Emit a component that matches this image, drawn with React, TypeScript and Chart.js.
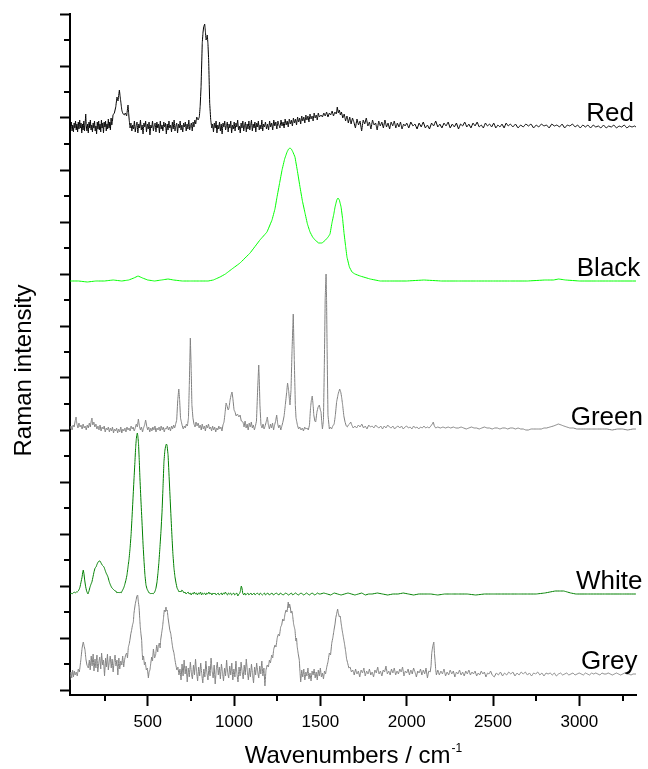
import React, { useEffect, useRef } from "react";
import { Chart, registerables, Plugin } from "chart.js";

Chart.register(...registerables);

const FONT = "'Liberation Sans', Arial, sans-serif";

// [wavenumber cm-1, intensity above the trace's own baseline]
const redSpectrum: [number, number][] = [
  [50, -8], [54, -2], [58, 4], [62, -5], [66, 1], [70, -6], [74, 3], [78, -2], [82, 5], [86, -4],
  [90, 2], [94, -6], [98, 4], [102, -3], [106, 6], [110, -2], [114, 3], [118, -7], [122, 2], [126, -4],
  [130, 5], [134, -5], [138, 3], [141, 12], [144, 1], [148, -5], [152, 2], [156, -7], [160, 4], [164, -2],
  [168, 6], [172, -4], [176, 1], [180, -6], [184, 3], [188, -2], [192, 5], [196, -5], [200, 0], [204, -8],
  [208, 4], [212, -3], [216, 5], [220, -4], [224, 2], [228, -6], [232, 6], [236, -2], [240, 3], [244, -7],
  [248, 4], [252, -1], [256, 5], [260, -5], [264, 2], [268, -3], [272, 7], [276, -2], [280, 4], [284, -4],
  [288, 8], [292, 1], [296, 5],
  [299, 11], [307, 13], [315, 19], [322, 29], [328, 25], [336, 36], [340, 30], [345, 23], [350, 16], [353, 14],
  [358, 12], [364, 11], [370, 13], [378, 10], [386, 21], [390, 12], [393, 6], [398, -2],
  [403, 3], [408, -5], [413, 1], [418, -3], [423, 5], [428, -6], [433, 0], [438, 4], [443, -7], [448, 2],
  [453, -2], [458, 6], [463, -4], [468, 1], [473, -8], [478, 3], [483, -1], [488, 5], [493, -6], [498, 2],
  [503, -3], [508, 4], [513, -9], [518, 1], [523, -2], [528, 5], [533, -5], [538, 0], [543, 3], [548, -6],
  [553, 4], [558, -2], [563, 2], [568, -7], [573, 5], [578, -3], [583, 1], [588, -5], [593, 4], [598, -1],
  [603, 3], [608, -8], [613, 2], [618, -4], [623, 5], [628, -2], [633, 1], [638, -6], [643, 4], [648, -3],
  [653, 6], [658, -5], [663, 0], [668, 3], [673, -7], [678, 2], [683, -2], [688, 5], [693, -4], [698, 1],
  [703, -6], [708, 3], [713, -1], [718, 4], [723, -5], [728, 2], [733, -3], [738, 6], [743, -4], [748, 0],
  [753, 3], [758, -5], [763, 4], [768, -1], [773, 6], [778, 2],
  [784, 9], [792, 6], [799, 9], [804, 20], [809, 39], [816, 83], [820, 93], [824, 99], [830, 102], [834, 95],
  [838, 86], [842, 88], [845, 91], [849, 82], [853, 66], [856, 45], [859, 23], [865, 6], [871, -2],
  [876, 2], [881, -6], [886, 3], [891, -2], [896, 5], [901, -7], [906, 1], [911, -3], [916, 4], [921, -5],
  [926, 2], [931, -8], [936, 3], [941, -1], [946, 5], [951, -4], [956, 0], [961, 4], [966, -6], [971, 2],
  [976, -2], [981, 5], [986, -7], [991, 1], [996, -3], [1001, 4], [1006, -5], [1011, 3], [1016, -1], [1021, 6],
  [1026, -4], [1031, 0], [1036, -7], [1041, 3], [1046, -2], [1051, 5], [1056, -5], [1061, 1], [1066, 4], [1071, -6],
  [1076, 2], [1081, -3], [1086, 5], [1091, -4], [1096, 0], [1101, 6], [1106, -5], [1111, 2], [1116, -2], [1121, 4],
  [1126, -6], [1131, 3], [1136, -1], [1141, 5], [1146, -4], [1151, 1], [1156, -3], [1161, 6], [1166, -5], [1171, 2],
  [1176, -1],
  [1182, 4], [1188, -3], [1194, 2], [1200, -4], [1206, 5], [1212, -1], [1218, 3], [1224, -4], [1230, 6], [1236, 0],
  [1242, 4], [1248, -3], [1254, 5], [1260, 1], [1266, -2], [1272, 6], [1278, 0], [1284, 4], [1290, -2], [1296, 7],
  [1302, 1], [1308, 5], [1314, -1], [1320, 7], [1326, 2], [1332, 6], [1338, 0], [1344, 8], [1350, 3], [1356, 7],
  [1362, 1], [1368, 9], [1374, 4], [1380, 8], [1386, 2], [1392, 10], [1398, 5], [1404, 9], [1410, 3], [1416, 11],
  [1422, 6], [1428, 10], [1434, 4], [1440, 12], [1446, 7], [1452, 10], [1458, 5], [1464, 13], [1470, 8], [1476, 11],
  [1482, 6], [1488, 13], [1494, 9],
  [1504, 11], [1512, 9], [1520, 13], [1528, 10], [1536, 14], [1544, 9], [1552, 13], [1560, 11], [1568, 15], [1576, 10],
  [1584, 14], [1592, 12], [1598, 19], [1604, 13], [1610, 16], [1616, 11], [1622, 14], [1630, 8], [1638, 12], [1646, 5],
  [1654, 10], [1662, 3], [1670, 9], [1678, 2], [1686, 8], [1694, 4],
  [1703, -2], [1712, 7], [1721, 1], [1730, 5], [1739, -5], [1748, 6], [1757, 2], [1766, 8], [1775, 0], [1784, 4],
  [1793, -3], [1802, 6], [1811, 1], [1820, 3], [1829, -4], [1838, 5], [1847, 0], [1856, 4], [1865, -2], [1874, 6],
  [1883, -1], [1892, 3], [1901, -3], [1910, 4], [1919, 0], [1928, 5], [1937, -2], [1946, 3], [1955, -1], [1964, 4],
  [1973, -3], [1982, 2], [1991, 0],
  [2000, 3], [2012, -2], [2024, 4], [2036, 0], [2048, 2], [2060, -3], [2072, 3], [2084, -1], [2096, 4], [2108, -2],
  [2120, 1], [2132, -3], [2144, 3], [2156, 0], [2168, 5], [2180, -1], [2192, 2], [2204, -2], [2216, 3], [2228, 0],
  [2240, 4], [2252, -2], [2264, 2], [2276, -1], [2288, 3], [2300, -3], [2312, 2], [2324, 0], [2336, 4], [2348, -1],
  [2360, 2], [2372, -2], [2384, 3], [2396, 0], [2408, 4], [2420, -1], [2432, 1], [2444, -2], [2456, 3], [2468, 0],
  [2480, 2], [2492, -1], [2504, 3], [2516, -2], [2528, 1], [2540, -1], [2552, 2], [2564, -2], [2576, 3], [2588, 0],
  [2600, 2], [2615, -1], [2630, 2], [2645, -2], [2660, 1], [2675, -1], [2690, 2], [2705, 0], [2720, 2], [2735, -2],
  [2750, 1], [2765, -1], [2780, 2], [2795, 0], [2810, 1], [2825, -2], [2840, 2], [2855, 0], [2870, 1], [2885, -1],
  [2900, 2], [2915, -2], [2930, 1], [2945, 0], [2960, 2], [2975, -1], [2990, 1], [3005, -2], [3020, 1], [3035, -1],
  [3050, 1], [3065, -2], [3080, 1], [3095, -1], [3110, 0], [3125, -2], [3140, 1], [3155, -2], [3170, 0], [3185, -1],
  [3200, 1], [3215, -2], [3230, 0], [3245, -1], [3260, 1], [3275, -2], [3290, 0], [3305, -1], [3320, 0], [3328, -1],
];

const blackSpectrum: [number, number][] = [
  [50, 0], [100, 0], [150, -1], [200, 0], [250, 0], [300, 1], [350, 0], [390, 1], [420, 3], [444, 5],
  [470, 3], [500, 1], [540, 0], [580, 1], [618, 2], [650, 1], [700, 0], [750, 0], [800, 0], [850, 0],
  [880, 1], [919, 4], [950, 7], [988, 12], [1035, 18], [1093, 28], [1150, 41], [1191, 49], [1220, 61], [1237, 72],
  [1249, 84], [1264, 98], [1278, 111], [1293, 122], [1307, 129], [1316, 132], [1324, 133], [1332, 132], [1341, 129], [1353, 124],
  [1367, 110], [1382, 94], [1396, 80], [1411, 68], [1425, 57], [1440, 49], [1455, 44], [1469, 41], [1490, 38], [1510, 38],
  [1530, 41], [1545, 44], [1556, 47], [1567, 58], [1578, 67], [1585, 74], [1595, 81], [1602, 83], [1610, 81], [1620, 74],
  [1629, 62], [1637, 48], [1646, 35], [1654, 24], [1668, 14], [1683, 9], [1700, 7], [1730, 5], [1788, 2], [1846, 0],
  [1900, 0], [2000, 0], [2100, 1], [2200, 0], [2300, 0], [2400, 0], [2500, 0], [2600, 0], [2700, 0], [2800, 1],
  [2850, 1], [2880, 2], [2920, 1], [3000, 0], [3100, 0], [3200, 0], [3328, 0],
];

const greenSpectrum: [number, number][] = [
  [50, 1], [56, 4], [62, 0], [68, 5], [74, 3], [80, 9], [85, 13], [90, 6], [96, 2], [102, 7],
  [108, 3], [114, 5], [120, 1], [126, 6], [132, 2], [138, 4], [144, 0], [150, 5], [156, 2], [162, 7],
  [168, 3], [173, 9], [177, 12], [182, 5], [188, 8], [194, 3], [200, 6], [206, 1], [212, 4], [218, 0],
  [224, 5], [230, -1], [236, 3], [242, 1], [248, 4], [254, -2], [260, 2], [266, 0], [272, 3], [278, -2],
  [284, 2], [290, -1], [296, 3], [302, -3], [308, 1], [314, -1], [320, 2], [326, -3], [332, 1], [338, -2],
  [344, 3], [350, -3], [356, 1], [362, -1], [368, 2], [374, -2], [380, 3], [386, 0], [392, 2], [398, -1],
  [404, 4], [410, 1], [416, 3], [422, -1], [428, 2], [434, 6], [440, 3], [446, 11], [452, 4], [458, 0],
  [464, 3], [470, -2], [476, 2], [482, 5], [488, 10], [494, 4], [500, 0], [506, 3], [512, -2], [518, 2],
  [524, -1], [530, 3], [536, 0], [542, 4], [548, -2], [554, 2], [560, 0], [566, 3], [572, -1], [578, 4],
  [584, 0], [590, 3], [596, -2], [602, 2], [608, 1], [614, 4], [620, 0], [626, 3], [632, -1], [638, 4],
  [644, 1], [650, 5], [656, 2], [662, 6], [668, 10], [674, 30], [680, 41], [685, 30], [690, 12], [699, 5],
  [706, 1], [712, 4], [718, 2], [724, 6], [730, 4], [736, 12], [741, 45], [747, 92], [752, 60], [756, 25],
  [762, 12], [768, 6], [774, 3], [780, 8], [786, 4], [792, 7], [798, 2], [804, 5], [810, 0], [816, 6],
  [822, 1], [828, 4], [834, -1], [840, 5], [846, 2], [852, 6], [858, 1], [864, 3], [870, -1], [876, 4],
  [882, 0], [888, 3], [894, -2], [900, 2], [906, 0], [912, 4], [918, 1], [924, 3], [930, -1], [936, 5],
  [942, 8], [948, 17], [954, 27], [960, 24], [966, 20], [971, 22], [977, 30], [983, 35], [988, 38], [993, 32],
  [1000, 20], [1006, 18], [1012, 14], [1020, 16], [1028, 13], [1035, 15], [1042, 9], [1052, 8], [1058, 3], [1064, 9],
  [1070, 2], [1076, 6], [1082, 0], [1088, 7], [1094, 3], [1100, 8], [1106, 2], [1112, 5], [1118, 0], [1124, 4],
  [1130, 9], [1135, 32], [1139, 50], [1143, 65], [1147, 45], [1150, 25], [1156, 5], [1162, 2], [1168, 6], [1174, 1],
  [1180, 4], [1186, 8], [1193, 13], [1199, 5], [1205, 1], [1211, 6], [1217, 2], [1223, 7], [1229, 0], [1235, 5],
  [1241, 9], [1247, 15], [1253, 6], [1259, 2], [1265, 5], [1271, 0], [1277, 4], [1283, 8], [1290, 14], [1297, 25],
  [1305, 38], [1310, 47], [1316, 40], [1321, 30], [1324, 25], [1330, 40], [1336, 80], [1343, 116], [1349, 70], [1355, 25],
  [1359, 12], [1367, 5], [1374, 1], [1381, 3], [1388, 0], [1395, 2], [1402, -1], [1409, 3], [1416, 1], [1423, 2],
  [1430, 0], [1437, 5], [1443, 22], [1448, 30], [1453, 34], [1458, 25], [1462, 15], [1468, 9], [1473, 8], [1480, 18],
  [1487, 23], [1494, 25], [1500, 20], [1504, 18], [1508, 8], [1512, 1], [1518, 10], [1523, 65], [1528, 132], [1533, 156],
  [1536, 130], [1539, 81], [1544, 15], [1552, 1], [1558, 3], [1565, 1], [1572, 4], [1580, 6], [1587, 15], [1594, 28],
  [1603, 36], [1612, 41], [1618, 38], [1623, 33], [1629, 25], [1636, 14], [1643, 8], [1650, 4], [1656, 3], [1662, 5],
  [1669, 6], [1676, 8], [1682, 5], [1690, 2],
  [1700, 4], [1710, 2], [1720, 5], [1730, 3], [1740, 6], [1750, 2], [1760, 4], [1770, 1], [1780, 5], [1790, 3],
  [1800, 4], [1810, 2], [1820, 5], [1830, 3], [1840, 2], [1850, 4], [1860, 1], [1870, 4], [1880, 2], [1890, 5],
  [1900, 3], [1910, 2], [1920, 4], [1930, 1], [1940, 3], [1950, 4], [1960, 2], [1970, 4], [1980, 1], [1990, 3],
  [2000, 4], [2010, 2], [2020, 3], [2030, 1], [2040, 4], [2050, 2], [2060, 3], [2070, 1], [2080, 3], [2090, 2],
  [2100, 4], [2110, 2], [2120, 3], [2130, 2], [2140, 4], [2148, 6], [2154, 8], [2160, 4], [2168, 2],
  [2180, 3], [2195, 2], [2210, 3], [2225, 2], [2240, 3], [2255, 2], [2270, 3], [2285, 2], [2300, 2], [2315, 3],
  [2330, 2], [2345, 1], [2360, 2], [2375, 3], [2390, 2], [2405, 2], [2420, 1], [2435, 2], [2450, 3], [2465, 2],
  [2480, 2], [2495, 1], [2510, 2], [2525, 2], [2540, 1], [2555, 2], [2570, 2], [2585, 1], [2600, 2], [2615, 2],
  [2630, 1], [2645, 2], [2660, 1], [2675, 1], [2690, 0], [2705, 0], [2720, 1], [2735, 1], [2750, 1], [2765, 1],
  [2780, 1], [2795, 2], [2810, 2], [2830, 3], [2850, 4], [2865, 5], [2878, 6], [2895, 5], [2910, 4], [2927, 3],
  [2945, 2], [2965, 2], [2985, 1], [3010, 1], [3040, 1], [3070, 1], [3100, 1], [3130, 1], [3160, 1], [3190, 0],
  [3220, 1], [3250, 1], [3280, 0], [3310, 1], [3328, 1],
];

const whiteSpectrum: [number, number][] = [
  [50, 0], [56, 1], [62, 0], [68, 1], [74, 2], [80, 1], [86, 2], [92, 2], [98, 3], [104, 5],
  [108, 7], [114, 12], [120, 17], [124, 22], [127, 24], [131, 20], [135, 14], [140, 8], [146, 3], [151, 1],
  [154, 0], [160, 3], [166, 7], [172, 10], [177, 12], [183, 17], [189, 22], [195, 26], [201, 27], [207, 30],
  [213, 32], [218, 33], [224, 33], [230, 31], [236, 29], [242, 28], [247, 27], [253, 24], [259, 21], [265, 19],
  [270, 17], [276, 13], [282, 10], [287, 8], [293, 6], [299, 5], [305, 4], [311, 3], [316, 3], [322, 1],
  [328, 2], [334, 1], [340, 2], [346, 1], [352, 3], [358, 5], [363, 7], [368, 10], [374, 14], [380, 19],
  [386, 27], [392, 35], [398, 46], [404, 60], [409, 76], [415, 96], [421, 116], [426, 132], [430, 146], [434, 155],
  [437, 159], [440, 161], [443, 158], [447, 150], [451, 134], [455, 116], [461, 93], [467, 72], [473, 50], [479, 32],
  [484, 19], [490, 9], [496, 5], [502, 3], [508, 1], [513, 1], [519, 0], [525, 1], [531, 0], [537, 1],
  [543, 3], [548, 6], [554, 12], [560, 22], [565, 32], [571, 47], [577, 63], [583, 82], [588, 104], [594, 132],
  [599, 143], [604, 148], [608, 150], [612, 149], [618, 139], [623, 121], [629, 99], [635, 77], [641, 56], [646, 40],
  [652, 26], [658, 17], [664, 11], [670, 6], [676, 4], [682, 2], [687, 3], [693, 2], [698, 4], [704, 3],
  [710, 1], [716, 2], [722, 0], [728, 1], [734, 2], [740, 0], [746, 1], [752, -1], [758, 1], [764, 0],
  [770, 2], [776, 0], [782, 1], [788, -1], [794, 1], [800, 0], [806, 2], [812, -1], [818, 1], [824, 0],
  [830, 1], [836, -1], [842, 1], [848, 0], [854, 2], [860, 0], [866, 1], [872, -1], [878, 1], [884, 0],
  [890, 1], [896, -1], [902, 0], [908, 1], [914, -1], [920, 0], [926, 1], [932, -1], [938, 1], [944, 0],
  [950, 2], [956, 0], [962, -1], [968, 1], [974, 0], [980, 1], [986, -1], [992, 0], [998, 1], [1004, -1],
  [1010, 0], [1016, 1], [1022, -2], [1028, 0], [1034, 1], [1038, 4], [1042, 8], [1046, 6], [1050, 1], [1056, -1],
  [1062, 1], [1068, -1], [1074, 0], [1080, 1], [1086, -1], [1092, 0], [1098, 1], [1104, -1], [1110, 0], [1116, 1],
  [1122, -1], [1128, 0], [1134, 1], [1140, 0], [1146, -1], [1152, 1], [1158, 0], [1164, -1], [1170, 0], [1176, 1],
  [1182, -1], [1188, 0], [1196, 1], [1204, -1], [1212, 0], [1220, 1], [1228, -1], [1236, 0], [1244, 1], [1252, 0],
  [1260, -1], [1268, 1], [1276, 0], [1284, -1], [1292, 0], [1300, 1], [1308, 0], [1316, -1], [1324, 0], [1332, 1],
  [1340, -1], [1348, 0], [1356, 1], [1364, 0], [1372, -1], [1380, 0], [1388, 1], [1396, 0], [1404, -1], [1412, 0],
  [1420, 1], [1428, 0], [1436, -1], [1444, 0], [1452, 1], [1460, 0], [1468, -1], [1476, 0], [1484, 1], [1492, 0],
  [1500, 0], [1520, 1], [1540, 0], [1560, -1], [1580, 1], [1600, 0], [1620, -1], [1640, 0], [1660, 1], [1680, 0],
  [1700, -1], [1720, 0], [1740, 1], [1760, -1], [1780, 0], [1800, 0], [1830, 1], [1860, 0], [1890, -1], [1920, 0],
  [1950, 0], [1980, 1], [2010, 0], [2040, -1], [2070, 0], [2100, 0], [2140, 0], [2180, -1], [2220, 0], [2260, 0],
  [2300, 0], [2350, 0], [2400, -1], [2450, 0], [2500, 0], [2550, 0], [2600, 0], [2650, 0], [2700, 0], [2750, 0],
  [2800, 1], [2830, 2], [2860, 3], [2890, 3], [2910, 3], [2930, 2], [2950, 1], [2980, 0], [3050, 0], [3150, 0],
  [3250, 0], [3328, 0],
];

const greySpectrum: [number, number][] = [
  [50, -6], [55, 2], [60, -4], [65, 4], [70, -3], [75, 3], [80, -1], [86, 2], [92, -2], [98, 5],
  [104, 2], [108, 7], [114, 16], [120, 26], [127, 32], [132, 28], [137, 24], [142, 15], [148, 9], [156, 6],
  [162, 14], [167, 4], [173, 18], [178, 8], [184, 20], [189, 3], [195, 15], [200, 6], [206, 19], [211, 2],
  [217, 12], [222, 17], [228, 5], [233, 21], [239, 9], [244, 14], [250, -2], [256, 16], [261, 7], [267, 20],
  [272, 4], [278, 13], [283, 18], [289, 6], [294, 15], [300, 2], [305, 12], [311, 19], [316, 8], [322, 14],
  [327, -1], [333, 16], [338, 5], [344, 13], [350, 9], [355, 18], [361, 7], [366, 14], [372, 19], [378, 21],
  [383, 16], [388, 27], [393, 30], [397, 34], [402, 40], [407, 44], [412, 49], [417, 52], [420, 60], [423, 64],
  [428, 70], [433, 74], [437, 78], [442, 79], [446, 72], [450, 67], [454, 55], [457, 47], [461, 40], [465, 34],
  [468, 22], [471, 14], [476, 18], [481, 9], [486, 12], [492, 4], [498, 6], [504, -4], [508, 2], [513, 4],
  [518, 11], [523, 17], [528, 13], [533, 25], [540, 16], [546, 19], [552, 29], [558, 22], [561, 27], [567, 31],
  [572, 26], [575, 34], [580, 40], [586, 47], [591, 55], [596, 64], [601, 62], [606, 67], [610, 63], [613, 64],
  [618, 56], [623, 50], [628, 44], [634, 40], [640, 32], [646, 25], [652, 21], [658, 14], [663, 9], [669, 4],
  [675, 7], [681, -1],
  [687, 5], [693, -6], [699, 10], [705, -2], [711, 14], [717, 0], [723, 8], [729, -8], [735, 6], [741, -3],
  [747, 12], [753, 1], [759, -5], [765, 9], [771, -1], [777, 15], [783, 2], [789, -7], [795, 7], [801, -2],
  [807, 11], [813, 0], [819, -9], [825, 5], [831, -3], [837, 13], [843, 1], [849, -6], [855, 8], [861, -2],
  [867, 16], [873, 3], [879, -4], [885, 9], [891, -10], [897, 4], [903, 12], [909, -1], [915, 7], [921, -5],
  [927, 10], [933, 2], [939, -7], [945, 6], [951, -2], [957, 14], [963, 1], [969, -4], [975, 8], [981, -1],
  [987, 11], [993, -6], [999, 5], [1005, -3], [1011, 13], [1017, 0], [1023, -8], [1029, 7], [1035, -2], [1041, 12],
  [1047, 2], [1053, -5], [1059, 9], [1065, -1], [1071, 15], [1077, 3], [1083, -6], [1089, 6], [1095, -3], [1101, 10],
  [1107, 0], [1113, -9], [1119, 7], [1125, -1], [1131, 11], [1137, 2], [1143, -4], [1149, 8], [1155, 0], [1161, 13],
  [1167, -2], [1173, 6], [1179, -12], [1185, 4],
  [1192, 9], [1199, 7], [1205, 14], [1211, 11], [1218, 19], [1224, 16], [1230, 25], [1237, 29], [1243, 27], [1250, 36],
  [1257, 40], [1263, 38], [1270, 47], [1276, 49], [1282, 55], [1289, 53], [1295, 60], [1301, 64], [1307, 62], [1314, 72],
  [1318, 66], [1322, 70], [1326, 67], [1330, 61], [1335, 63], [1339, 59], [1345, 50], [1349, 47], [1353, 44], [1358, 33],
  [1362, 36], [1366, 27], [1372, 20], [1378, 14], [1382, 2], [1386, -8], [1392, 4],
  [1398, -3], [1404, 5], [1410, -6], [1416, 2], [1422, -2], [1428, 6], [1434, -5], [1440, 1], [1446, -7], [1452, 3],
  [1458, -1], [1464, 5], [1470, -4], [1476, 2], [1482, -6], [1488, 4], [1494, -2], [1500, 6], [1506, -3], [1512, 1],
  [1518, -5], [1524, 3], [1530, 0],
  [1537, 7], [1544, 12], [1552, 21], [1559, 19], [1566, 31], [1572, 36], [1579, 44], [1585, 50], [1589, 56], [1594, 60],
  [1600, 65], [1604, 61], [1610, 57], [1615, 58], [1620, 51], [1626, 44], [1633, 37], [1640, 30], [1647, 22], [1652, 15],
  [1658, 11], [1665, 6], [1672, 7], [1680, 2], [1688, 4],
  [1696, -1], [1704, 5], [1712, 0], [1720, 3], [1728, -3], [1736, 4], [1744, 1], [1752, 6], [1760, -2], [1768, 3],
  [1776, 0], [1784, 5], [1792, -1], [1800, 2], [1808, -3], [1816, 4], [1824, 1], [1832, 7], [1840, 0], [1848, 3],
  [1856, -2], [1864, 4], [1872, 2], [1880, 8], [1888, 0], [1896, 3], [1904, -1], [1912, 5], [1920, 1], [1928, 6],
  [1936, -1], [1944, 3], [1952, 0], [1960, 5], [1968, 2], [1976, 7], [1984, -2], [1992, 3], [2000, 1], [2008, 5],
  [2016, -1], [2024, 4], [2032, 0], [2040, 6], [2048, 2], [2056, -3], [2064, 3], [2072, 1], [2080, 5], [2088, -1],
  [2096, 4], [2104, 0], [2112, 6], [2120, -4], [2128, 3], [2136, 2], [2141, 8], [2145, 21], [2151, 28], [2157, 32],
  [2161, 20], [2164, 14], [2168, 4], [2172, -1],
  [2180, 4], [2189, -1], [2198, 3], [2207, 0], [2216, 5], [2225, -2], [2234, 2], [2243, -1], [2252, 4], [2261, 0],
  [2270, 3], [2279, -3], [2288, 2], [2297, 0], [2306, 4], [2315, -1], [2324, 2], [2333, -2], [2342, 3], [2351, 0],
  [2360, 4], [2369, -1], [2378, 2], [2387, 0], [2396, 3], [2405, -2], [2414, 1], [2423, -1], [2432, 3], [2441, 0],
  [2450, 2], [2459, -3], [2468, 1], [2477, 0], [2486, 3], [2495, -1],
  [2507, -3], [2519, 1], [2531, -1], [2543, 2], [2555, -2], [2567, 1], [2579, -1], [2591, 2], [2603, 0], [2615, 2],
  [2627, -2], [2639, 1], [2651, -1], [2663, 2], [2675, 0], [2687, 2], [2699, -1], [2711, 1], [2723, -2], [2735, 1],
  [2747, 0], [2759, 2], [2771, -1], [2783, 1], [2795, -2], [2807, 1], [2819, 0], [2831, 1], [2843, -1], [2855, 1],
  [2867, -2], [2879, 0], [2891, 1], [2903, -1], [2915, 0], [2927, 1], [2939, -1], [2951, 0], [2963, 1], [2975, -1],
  [2987, 0], [2999, 1], [3011, 0], [3023, -1], [3035, 1], [3047, 0], [3059, -1], [3071, 1], [3083, 0], [3095, 1],
  [3107, 0], [3119, -1], [3131, 1], [3143, 0], [3155, 0], [3167, 1], [3179, 0], [3191, -1], [3203, 0], [3215, 1],
  [3227, 0], [3239, -1], [3251, 0], [3263, 1], [3275, 0], [3287, 0], [3299, -1], [3311, 0], [3328, 0],
];

const sampleNames = ["Red", "Black", "Green", "White", "Grey"];
const spectra = [redSpectrum, blackSpectrum, greenSpectrum, whiteSpectrum, greySpectrum];
// vertical stacking offset of each trace
const traceOffsets = [564, 409, 260, 96, 16];

const xTickValues = [250, 500, 750, 1000, 1250, 1500, 1750, 2000, 2250, 2500, 2750, 3000, 3250];
const yTickValues = [
  0, 26, 52, 78, 104, 130, 156, 182, 208, 234, 260, 286, 312, 338,
  364, 390, 416, 442, 468, 494, 520, 546, 572, 598, 624, 650, 676,
];

const traceColors = ["#000000", "#00ff00", "#808080", "#008000", "#808080"];
const labelStart = [3040, 2985, 2950, 2980, 3010]; // wavenumber where each name starts

const isMajorX = (v: number) => v % 500 === 0;
const isMajorY = (v: number) => v % 52 === 0;

const decorations: Plugin<"line"> = {
  id: "decorations",
  afterDraw(chart) {
    const { ctx, chartArea, scales } = chart;
    const xs = scales.x;
    const ys = scales.y;
    ctx.save();

    // minor ticks (shorter than the major ones drawn by the scales)
    ctx.strokeStyle = "#000";
    ctx.lineWidth = 2;
    ctx.beginPath();
    yTickValues.forEach((v) => {
      if (isMajorY(v)) return;
      const py = Math.round(ys.getPixelForValue(v));
      ctx.moveTo(chartArea.left - 6, py);
      ctx.lineTo(chartArea.left, py);
    });
    xTickValues.forEach((v) => {
      if (isMajorX(v)) return;
      const px = Math.round(xs.getPixelForValue(v));
      ctx.moveTo(px, chartArea.bottom);
      ctx.lineTo(px, chartArea.bottom + 6);
    });
    ctx.stroke();

    // sample names
    ctx.fillStyle = "#000";
    ctx.textAlign = "left";
    ctx.textBaseline = "alphabetic";
    ctx.font = `26px ${FONT}`;
    sampleNames.forEach((name, i) => {
      ctx.fillText(name, xs.getPixelForValue(labelStart[i]), ys.getPixelForValue(traceOffsets[i]) - 5);
    });

    // x title with superscript
    const main = "Wavenumbers / cm";
    ctx.font = `24px ${FONT}`;
    const mainW = ctx.measureText(main).width;
    ctx.font = `12px ${FONT}`;
    const supW = ctx.measureText("-1").width;
    const startX = (chartArea.left + chartArea.right) / 2 - (mainW + supW) / 2;
    ctx.font = `24px ${FONT}`;
    ctx.fillText(main, startX, chartArea.bottom + 68);
    ctx.font = `12px ${FONT}`;
    ctx.fillText("-1", startX + mainW + 1, chartArea.bottom + 57);

    // y title
    ctx.translate(chartArea.left - 39, (chartArea.top + chartArea.bottom) / 2 + 16);
    ctx.rotate(-Math.PI / 2);
    ctx.font = `24px ${FONT}`;
    ctx.textAlign = "center";
    ctx.fillText("Raman intensity", 0, 0);
    ctx.restore();
  },
};

export default function App() {
  const canvasRef = useRef<HTMLCanvasElement | null>(null);

  useEffect(() => {
    document.body.style.margin = "0";
    const canvas = canvasRef.current;
    if (!canvas) return;

    const chart = new Chart(canvas, {
      type: "line",
      data: {
        datasets: spectra.map((spec, i) => ({
          label: sampleNames[i],
          data: spec.map(([w, v]) => ({ x: w, y: v + traceOffsets[i] })),
          borderColor: traceColors[i],
          borderWidth: 1,
          borderJoinStyle: "round" as const,
          pointRadius: 0,
          // tiny tension keeps the polyline but avoids the per-pixel min/max fast path
          tension: 0.0001,
          fill: false,
        })),
      },
      options: {
        responsive: false,
        animation: false,
        layout: { padding: { top: 14, right: 12, left: 0, bottom: 0 } },
        plugins: {
          legend: { display: false },
          tooltip: { enabled: false },
        },
        scales: {
          x: {
            type: "linear",
            min: 50,
            max: 3328,
            afterBuildTicks: (scale) => {
              scale.ticks = xTickValues.map((v) => ({ value: v }));
            },
            afterFit: (scale) => {
              scale.height = 74;
            },
            grid: {
              drawOnChartArea: false,
              drawTicks: true,
              tickLength: 11,
              tickWidth: 2,
              tickColor: (c: any) => (c.tick && isMajorX(c.tick.value) ? "#000" : "rgba(0,0,0,0)"),
            },
            border: { display: true, color: "#000", width: 2 },
            ticks: {
              autoSkip: false,
              maxRotation: 0,
              padding: 6,
              color: "#000",
              font: { family: FONT, size: 17 },
              callback: (v) => (isMajorX(Number(v)) ? String(v) : ""),
            },
          },
          y: {
            type: "linear",
            min: -5,
            max: 676,
            afterBuildTicks: (scale) => {
              scale.ticks = yTickValues.map((v) => ({ value: v }));
            },
            afterFit: (scale) => {
              scale.width = 70;
            },
            grid: {
              drawOnChartArea: false,
              drawTicks: true,
              tickLength: 10,
              tickWidth: 2,
              tickColor: (c: any) => (c.tick && isMajorY(c.tick.value) ? "#000" : "rgba(0,0,0,0)"),
            },
            border: { display: true, color: "#000", width: 2 },
            ticks: { display: false },
          },
        },
      },
      plugins: [decorations],
    });

    return () => chart.destroy();
  }, []);

  return (
    <div style={{ width: 648, height: 769 }}>
      <canvas ref={canvasRef} width={648} height={769} style={{ display: "block" }} />
    </div>
  );
}
